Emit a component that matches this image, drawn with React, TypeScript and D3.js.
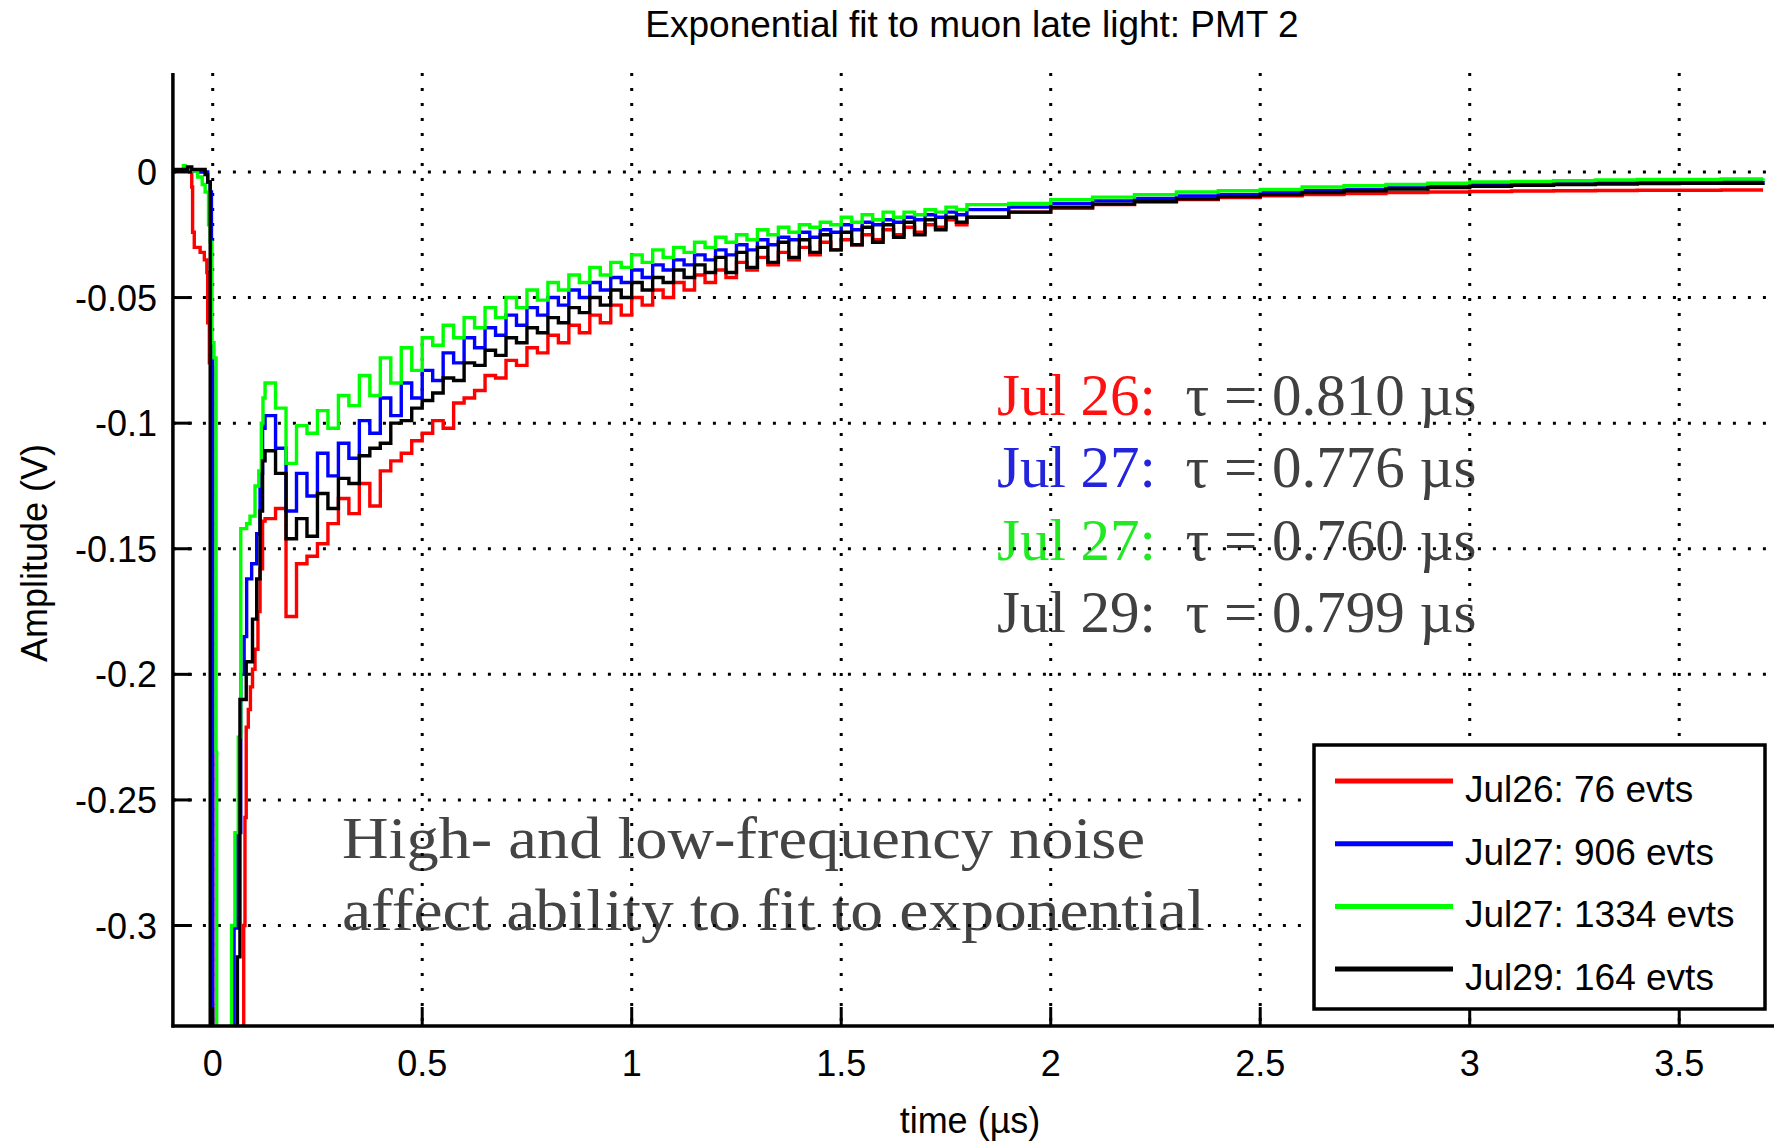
import React from 'react';
import * as d3 from 'd3';

// ---------- axis ticks ----------
const xTicks = [0, 0.5, 1, 1.5, 2, 2.5, 3, 3.5];
const xTickLabels = ['0', '0.5', '1', '1.5', '2', '2.5', '3', '3.5'];
const yTicks = [0, -0.05, -0.1, -0.15, -0.2, -0.25, -0.3];
const yTickLabels = ['0', '-0.05', '-0.1', '-0.15', '-0.2', '-0.25', '-0.3'];

// ---------- series meta ----------
const seriesNames = ['Jul26: 76 evts', 'Jul27: 906 evts', 'Jul27: 1334 evts', 'Jul29: 164 evts'];
const seriesColors = ['#ff0000', '#0000ff', '#00ff00', '#000000'];

// ---------- early part (trigger edge, pulse runs off-scale) [t (us), V] ----------
const redEarly: [number, number][] = [
  [-0.095, 0.0005], [-0.052, 0.0005], [-0.05, -0.006], [-0.048, -0.024], [-0.044, -0.03],
  [-0.03, -0.032], [-0.02, -0.035], [-0.014, -0.04], [-0.012, -0.06], [-0.008, -0.076],
  [-0.004, -0.078], [0.0, -0.6], [0.072, -0.6], [0.074, -0.3], [0.077, -0.257], [0.08, -0.221],
  [0.085, -0.214], [0.09, -0.205], [0.095, -0.198], [0.101, -0.19], [0.108, -0.175],
  [0.113, -0.158], [0.119, -0.139],
];
const blueEarly: [number, number][] = [
  [-0.095, 0.0005], [-0.03, 0.0], [-0.012, -0.004], [-0.006, -0.008], [-0.003, -0.075],
  [0.0, -0.6], [0.051, -0.6], [0.051, -0.301], [0.059, -0.263], [0.067, -0.2], [0.075, -0.185],
  [0.081, -0.162], [0.093, -0.156], [0.105, -0.144], [0.113, -0.12], [0.119, -0.102],
];
const greenEarly: [number, number][] = [
  [-0.095, 0.0005], [-0.07, 0.0025], [-0.066, 0.0005], [-0.036, -0.002], [-0.025, -0.005],
  [-0.018, -0.008], [-0.01, -0.021], [-0.006, -0.028], [-0.002, -0.068], [0.003, -0.074],
  [0.008, -0.231], [0.0095, -0.6], [0.045, -0.6], [0.045, -0.3], [0.053, -0.263],
  [0.061, -0.225], [0.067, -0.142], [0.081, -0.14], [0.089, -0.137], [0.101, -0.125],
  [0.11, -0.119], [0.116, -0.1], [0.12, -0.09],
];
const blackEarly: [number, number][] = [
  [-0.095, 0.001], [-0.06, 0.002], [-0.05, 0.001], [-0.018, -0.001], [-0.012, -0.004],
  [-0.006, -0.6], [0.059, -0.6], [0.059, -0.3125], [0.065, -0.21], [0.08, -0.195],
  [0.095, -0.178], [0.105, -0.162], [0.113, -0.135], [0.119, -0.115],
];

// ---------- main decay: shared sample times (us) ----------
const bodyTime = [
  0.125, 0.15, 0.175, 0.2, 0.225, 0.25, 0.275, 0.3, 0.325, 0.35, 0.375, 0.4, 0.425, 0.45, 0.475, 0.5,
  0.525, 0.55, 0.575, 0.6, 0.625, 0.65, 0.675, 0.7, 0.725, 0.75, 0.775, 0.8, 0.825, 0.85, 0.875, 0.9, 0.925, 0.95, 0.975, 1.0,
  1.025, 1.05, 1.075, 1.1, 1.125, 1.15, 1.175, 1.2, 1.225, 1.25, 1.275, 1.3, 1.325, 1.35, 1.375, 1.4, 1.425, 1.45, 1.475, 1.5,
  1.525, 1.55, 1.575, 1.6, 1.625, 1.65, 1.675, 1.7, 1.725, 1.75, 1.775, 1.8,
  1.9, 2.0, 2.1, 2.2, 2.3, 2.4, 2.5, 2.6, 2.7, 2.8, 2.9, 3.0, 3.1, 3.2, 3.3, 3.4, 3.5, 3.6, 3.7,
];

const redBody = [
  -0.138, -0.134, -0.177, -0.156, -0.153, -0.148, -0.14, -0.13, -0.136, -0.124, -0.133, -0.119, -0.115, -0.112, -0.107, -0.104,
  -0.099, -0.102, -0.092, -0.09, -0.087, -0.081, -0.082, -0.075, -0.077, -0.07, -0.072, -0.065, -0.068, -0.061, -0.064, -0.057, -0.06, -0.053, -0.057, -0.05,
  -0.053, -0.047, -0.05, -0.044, -0.047, -0.041, -0.044, -0.039, -0.042, -0.036, -0.039, -0.034, -0.037, -0.032, -0.035, -0.03, -0.033, -0.028, -0.031, -0.027,
  -0.029, -0.025, -0.027, -0.023, -0.025, -0.022, -0.024, -0.021, -0.022, -0.019, -0.021, -0.018,
  -0.016, -0.0145, -0.013, -0.012, -0.011, -0.0102, -0.0095, -0.009, -0.0086, -0.0082, -0.008, -0.0078, -0.0076, -0.0075, -0.0074, -0.0073, -0.0073, -0.0072, -0.0072,
];
const blueBody = [
  -0.097, -0.11, -0.135, -0.12, -0.129, -0.112, -0.121, -0.108, -0.114, -0.099, -0.104, -0.09, -0.097, -0.084, -0.09, -0.079,
  -0.083, -0.072, -0.076, -0.066, -0.07, -0.062, -0.065, -0.057, -0.061, -0.054, -0.057, -0.05, -0.053, -0.047, -0.05, -0.044, -0.047, -0.042, -0.044, -0.039,
  -0.042, -0.037, -0.039, -0.035, -0.037, -0.033, -0.035, -0.031, -0.033, -0.029, -0.031, -0.027, -0.029, -0.026, -0.027, -0.024, -0.026, -0.023, -0.024, -0.021,
  -0.023, -0.02, -0.021, -0.019, -0.02, -0.018, -0.019, -0.017, -0.018, -0.016, -0.017, -0.015,
  -0.014, -0.0125, -0.0115, -0.0105, -0.0095, -0.009, -0.008, -0.0075, -0.007, -0.0062, -0.0056, -0.005, -0.0048, -0.0045, -0.0042, -0.004, -0.004, -0.0038, -0.0036,
];
const greenBody = [
  -0.084, -0.094, -0.116, -0.101, -0.104, -0.095, -0.102, -0.089, -0.093, -0.081, -0.089, -0.074, -0.084, -0.07, -0.079, -0.066,
  -0.069, -0.061, -0.066, -0.058, -0.062, -0.054, -0.058, -0.05, -0.054, -0.047, -0.051, -0.044, -0.047, -0.041, -0.044, -0.038, -0.041, -0.036, -0.038, -0.033,
  -0.036, -0.031, -0.034, -0.03, -0.032, -0.028, -0.03, -0.026, -0.028, -0.025, -0.027, -0.023, -0.025, -0.022, -0.024, -0.021, -0.022, -0.02, -0.021, -0.018,
  -0.02, -0.017, -0.019, -0.016, -0.018, -0.016, -0.017, -0.015, -0.016, -0.014, -0.015, -0.013,
  -0.0125, -0.011, -0.01, -0.009, -0.008, -0.0075, -0.007, -0.006, -0.0055, -0.005, -0.0045, -0.004, -0.0038, -0.0035, -0.0032, -0.003, -0.003, -0.0028, -0.0025,
];
const blackBody = [
  -0.111, -0.12, -0.146, -0.138, -0.145, -0.128, -0.134, -0.122, -0.124, -0.113, -0.11, -0.108, -0.1, -0.099, -0.094, -0.091,
  -0.088, -0.082, -0.083, -0.076, -0.077, -0.071, -0.073, -0.066, -0.068, -0.062, -0.064, -0.058, -0.06, -0.054, -0.056, -0.05, -0.053, -0.047, -0.05, -0.044,
  -0.047, -0.042, -0.044, -0.039, -0.042, -0.037, -0.04, -0.034, -0.04, -0.032, -0.038, -0.03, -0.036, -0.028, -0.034, -0.027, -0.032, -0.025, -0.031, -0.024,
  -0.029, -0.022, -0.028, -0.021, -0.026, -0.02, -0.025, -0.019, -0.023, -0.018, -0.02, -0.018,
  -0.016, -0.014, -0.0128, -0.0117, -0.0107, -0.0098, -0.009, -0.0082, -0.0075, -0.0068, -0.0062, -0.0057, -0.0053, -0.005, -0.0048, -0.0046, -0.0045, -0.0045, -0.0044,
];

// ---------- annotations ----------
const tauLabels = ['Jul 26:', 'Jul 27:', 'Jul 27:', 'Jul 29:'];
const tauValues = ['0.810', '0.776', '0.760', '0.799'];
const tauColors = ['#ff1010', '#2424dc', '#22ea22', '#404040'];
const noteLines = ['High- and low-frequency noise', 'affect ability to fit to exponential'];

const SANS = '"Liberation Sans", Arial, Helvetica, sans-serif';
const SERIF = '"Liberation Serif", "DejaVu Serif", serif';

export default function App() {
  const W = 1774;
  const H = 1144;
  const x = d3.scaleLinear().domain([-0.095, 3.72]).range([172.9, 1771.4]);
  const y = d3.scaleLinear().domain([-0.34, 0.04]).range([1026, 71.5]);
  const left = x(-0.095);
  const right = W;
  const top = 73;
  const bottom = y(-0.34);

  const early = [redEarly, blueEarly, greenEarly, blackEarly];
  const bodies = [redBody, blueBody, greenBody, blackBody];
  const series = bodies.map((b, i) =>
    early[i].concat(bodyTime.map((t, j) => [t, b[j]] as [number, number]))
  );

  const line = d3
    .line<[number, number]>()
    .x((d) => x(d[0]))
    .y((d) => y(d[1]))
    .curve(d3.curveStepAfter);

  const grid = { stroke: '#000', strokeWidth: 3, strokeDasharray: '3 12', fill: 'none' };
  const tickLen = 19;

  const legX = 1314, legY = 745, legW = 451, legH = 264;
  const legRowY = (i: number) => legY + 36 + i * 62.7;

  return (
    <svg
      width={W}
      height={H}
      viewBox={`0 0 ${W} ${H}`}
      style={{ position: 'absolute', left: 0, top: 0, background: '#fff' }}
    >
      <defs>
        <clipPath id="plotClip">
          <rect x={left} y={top} width={right - left} height={bottom - top} />
        </clipPath>
      </defs>
      <rect x={0} y={0} width={W} height={H} fill="#fff" />

      {/* title */}
      <text x={972} y={37} textAnchor="middle" fontFamily={SANS} fontSize={37} fill="#000">
        Exponential fit to muon late light: PMT 2
      </text>

      {/* annotations (under grid) */}
      {tauLabels.map((lab, i) => (
        <text key={'tau' + i} x={997} y={415 + i * 72.3} fontFamily={SERIF} fontSize={59} style={{ whiteSpace: 'pre' }}>
          <tspan fill={tauColors[i]}>{lab}</tspan>
          <tspan fill="#404040">{`  τ = ${tauValues[i]} µs`}</tspan>
        </text>
      ))}
      {noteLines.map((s, i) => (
        <text
          key={'note' + i}
          x={342}
          y={858 + i * 72}
          fontFamily={SERIF}
          fontSize={59}
          fill="#444"
          textLength={i === 0 ? 803 : 863}
          lengthAdjust="spacingAndGlyphs"
        >
          {s}
        </text>
      ))}

      {/* grid */}
      {xTicks.map((t) => (
        <line key={'gx' + t} x1={x(t)} x2={x(t)} y1={top} y2={bottom} style={grid} />
      ))}
      {yTicks.map((t) => (
        <line key={'gy' + t} x1={left} x2={right} y1={y(t)} y2={y(t)} style={grid} />
      ))}

      {/* data */}
      <g clipPath="url(#plotClip)">
        {series.map((s, i) => (
          <path key={'s' + i} d={line(s) || ''} fill="none" stroke={seriesColors[i]} strokeWidth={3.4} strokeLinejoin="miter" />
        ))}
      </g>

      {/* axes */}
      <line x1={left} x2={left} y1={top} y2={bottom + 1.5} stroke="#000" strokeWidth={3.5} />
      <line x1={left - 1.5} x2={right} y1={bottom} y2={bottom} stroke="#000" strokeWidth={3.5} />
      {xTicks.map((t) => (
        <line key={'tx' + t} x1={x(t)} x2={x(t)} y1={bottom} y2={bottom - tickLen} stroke="#000" strokeWidth={3} />
      ))}
      {yTicks.map((t) => (
        <line key={'ty' + t} x1={left} x2={left + tickLen} y1={y(t)} y2={y(t)} stroke="#000" strokeWidth={3} />
      ))}
      {xTicks.map((t, i) => (
        <text key={'lx' + t} x={x(t)} y={1076} textAnchor="middle" fontFamily={SANS} fontSize={36} fill="#000">
          {xTickLabels[i]}
        </text>
      ))}
      {yTicks.map((t, i) => (
        <text key={'ly' + t} x={157} y={y(t) + 13} textAnchor="end" fontFamily={SANS} fontSize={36} fill="#000">
          {yTickLabels[i]}
        </text>
      ))}
      <text x={970} y={1133} textAnchor="middle" fontFamily={SANS} fontSize={36} fill="#000">
        time (µs)
      </text>
      <text
        transform={`translate(47, 553) rotate(-90)`}
        textAnchor="middle"
        fontFamily={SANS}
        fontSize={36}
        fill="#000"
      >
        Amplitude (V)
      </text>

      {/* legend */}
      <rect x={legX} y={legY} width={legW} height={legH} fill="#fff" stroke="#000" strokeWidth={3.5} />
      {seriesNames.map((n, i) => (
        <g key={'leg' + i}>
          <line x1={1335} x2={1453} y1={legRowY(i)} y2={legRowY(i)} stroke={seriesColors[i]} strokeWidth={5} />
          <text x={1465} y={legRowY(i) + 21} fontFamily={SANS} fontSize={37} fill="#000">
            {n}
          </text>
        </g>
      ))}
    </svg>
  );
}
